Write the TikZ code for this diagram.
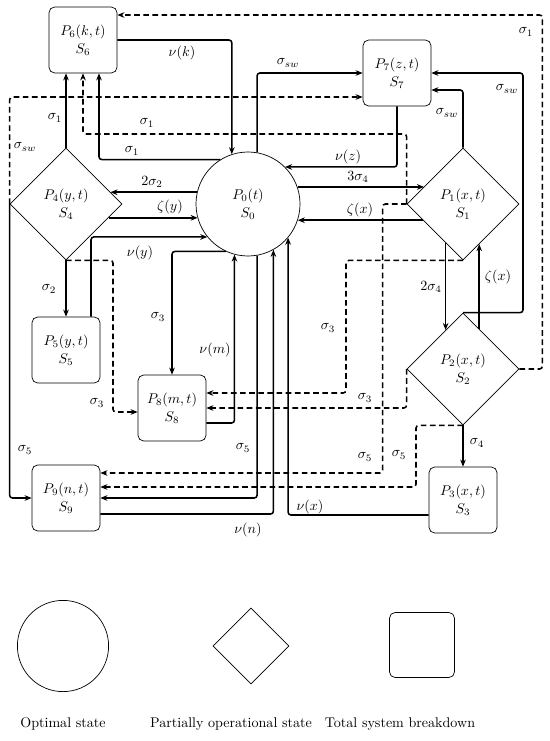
\documentclass[tikz,border=0pt]{standalone}
\usepackage{amsmath,amssymb}
\usepackage{tikz}
\usetikzlibrary{arrows.meta}
\usetikzlibrary{shapes.geometric}

\begin{document}
\begin{tikzpicture}[x=0.025cm, y=-0.025cm,
    etat/.style={draw, line width=0.5pt, align=center, inner sep=1pt},
    optimal/.style={etat, circle, minimum size=2.6cm},
    partiel/.style={etat, diamond, aspect=1, minimum width=2.8cm, minimum height=2.8cm},
    panne/.style={etat, rectangle, rounded corners=4pt, minimum width=1.7cm, minimum height=1.65cm},
    fl/.style={line width=1.1pt, rounded corners=2pt, -{Stealth[length=5pt, width=4pt]}},
    fld/.style={fl, dash pattern=on 4pt off 2.5pt},
    lab/.style={inner sep=1pt}]
    \useasboundingbox (0,0) rectangle (550,741);
    % Etats
    \node[optimal] (P0) at (248,204) {$P_0(t)$\\[1pt]$S_0$};
    \node[partiel] (P1) at (463,204) {$P_1(x,t)$\\[1pt]$S_1$};
    \node[partiel] (P2) at (463,369) {$P_2(x,t)$\\[1pt]$S_2$};
    \node[panne] (P3) at (463,500) {$P_3(x,t)$\\[1pt]$S_3$};
    \node[partiel] (P4) at (66,204) {$P_4(y,t)$\\[1pt]$S_4$};
    \node[panne] (P5) at (66,350) {$P_5(y,t)$\\[1pt]$S_5$};
    \node[panne] (P6) at (83,40) {$P_6(k,t)$\\[1pt]$S_6$};
    \node[panne] (P7) at (397,73) {$P_7(z,t)$\\[1pt]$S_7$};
    \node[panne] (P8) at (172,408) {$P_8(m,t)$\\[1pt]$S_8$};
    \node[panne] (P9) at (66,498) {$P_9(n,t)$\\[1pt]$S_9$};
    % depuis P0
    \draw[fl] (P0.80) |- (P7.west);
    \draw[fl] (P0.122) -| ([xshift=0.4cm]P6.south);
    \draw[fl] (P0.167) -- (P0.167 -| P4.15);
    \draw[fl] (P0.19) -- (P0.19 -| P1.156);
    \draw[fl] (P0.245) -| (P8.north);
    \draw[fl] (P0.280) |- (P9.east);
    % vers P0
    \draw[fl] (P6.east) -| (P0.108);
    \draw[fl] (P7.south) |- (P0.45);
    \draw[fl] (P4.342) -- (P4.342 -| P0.196);
    \draw[fl] (P1.202) -- (P1.202 -| P0.342);
    \draw[fl] ([xshift=0.625cm]P5.north) |- (P0.219);
    \draw[fl] ([yshift=-0.375cm]P8.east) -| (P0.255);
    \draw[fl] ([yshift=-0.4cm]P9.east) -| (P0.299);
    \draw[fl] ([yshift=-0.375cm]P3.west) -| (P0.320);
    % P1 et P2
    \draw[fl] (P1.246) -- (P1.246 |- P2.114);
    \draw[fl] (P2.68) -- (P2.68 |- P1.292);
    \draw[fl] (P2.south) -- (P3.north);
    \draw[fl] (P1.north) |- ([yshift=-0.425cm]P7.east);
    \draw[fl] (P2.north) -- ++(60,0) |- (P7.east);
    % P4
    \draw[fl] (P4.north) -- (P4.north |- P6.south);
    \draw[fl] (P4.south) -- (P5.north);
    \draw[fl] (P4.west) |- (P9.west);
    % pointilles
    \draw[fld] (P2.east) -- ++(23,0) |- ([yshift=0.625cm]P6.east);
    \draw[fld] (P1.west) -- ++(0,-70) -| (P6.south);
    \draw[fld] (P4.west) |- ([yshift=-0.6cm]P7.west);
    \draw[fld] (P4.south) -- ++(47,0) |- ([yshift=-0.1cm]P8.west);
    \draw[fld] (P1.south) -- ++(-117,0) |- ([yshift=0.375cm]P8.east);
    \draw[fld] (P2.west) |- (P8.east);
    \draw[fld] (P1.west) -- ++(-24,0) |- ([yshift=0.625cm]P9.east);
    \draw[fld] (P2.south) -- ++(-47,0) |- ([yshift=0.275cm]P9.east);
    % taux
    \node[lab] (s1haut) at (526,32) {$\sigma_1$};
    \node[lab] (nuk) at (182,53) {$\nu(k)$};
    \node[lab] (sswA) at (288,63) {$\sigma_{sw}$};
    \node[lab] (s1pt) at (147,123) {$\sigma_1$};
    \node[lab] (s1P0) at (132,151) {$\sigma_1$};
    \node[lab] (s1P4) at (55,118) {$\sigma_1$};
    \node[lab] (sswB) at (25,147) {$\sigma_{sw}$};
    \node[lab] (nuz) at (348,157) {$\nu(z)$};
    \node[lab] (sswC) at (447,113) {$\sigma_{sw}$};
    \node[lab] (sswD) at (507,89) {$\sigma_{sw}$};
    \node[lab] (deuxs2) at (152,182) {$2\sigma_2$};
    \node[lab] (zy) at (170,207) {$\zeta(y)$};
    \node[lab] (troiss4) at (358,177) {$3\sigma_4$};
    \node[lab] (zxA) at (360,210) {$\zeta(x)$};
    \node[lab] (nuy) at (140,253) {$\nu(y)$};
    \node[lab] (s2) at (49,289) {$\sigma_2$};
    \node[lab] (s3A) at (158,317) {$\sigma_3$};
    \node[lab] (num) at (215,350) {$\nu(m)$};
    \node[lab] (deuxs4) at (431,287) {$2\sigma_4$};
    \node[lab] (zxB) at (498,277) {$\zeta(x)$};
    \node[lab] (s3B) at (328,328) {$\sigma_3$};
    \node[lab] (s3C) at (97,403) {$\sigma_3$};
    \node[lab] (s3D) at (365,398) {$\sigma_3$};
    \node[lab] (s5A) at (25,450) {$\sigma_5$};
    \node[lab] (s5B) at (243,448) {$\sigma_5$};
    \node[lab] (s5C) at (365,457) {$\sigma_5$};
    \node[lab] (s5D) at (399,455) {$\sigma_5$};
    \node[lab] (s4) at (477,443) {$\sigma_4$};
    \node[lab] (nux) at (310,507) {$\nu(x)$};
    \node[lab] (nun) at (248,530) {$\nu(n)$};
    % legende
    \node[optimal, minimum size=2.28cm] (Lopt) at (63,646) {};
    \node[partiel, minimum width=1.9cm, minimum height=1.9cm] (Lpar) at (251,646) {};
    \node[panne, minimum width=1.625cm, minimum height=1.625cm] (Lpan) at (422,645) {};
    \node (Topt) at (63,724) {Optimal state};
    \node (Tpar) at (231,724) {Partially operational state};
    \node (Tpan) at (400,724) {Total system breakdown};
\end{tikzpicture}
\end{document}
